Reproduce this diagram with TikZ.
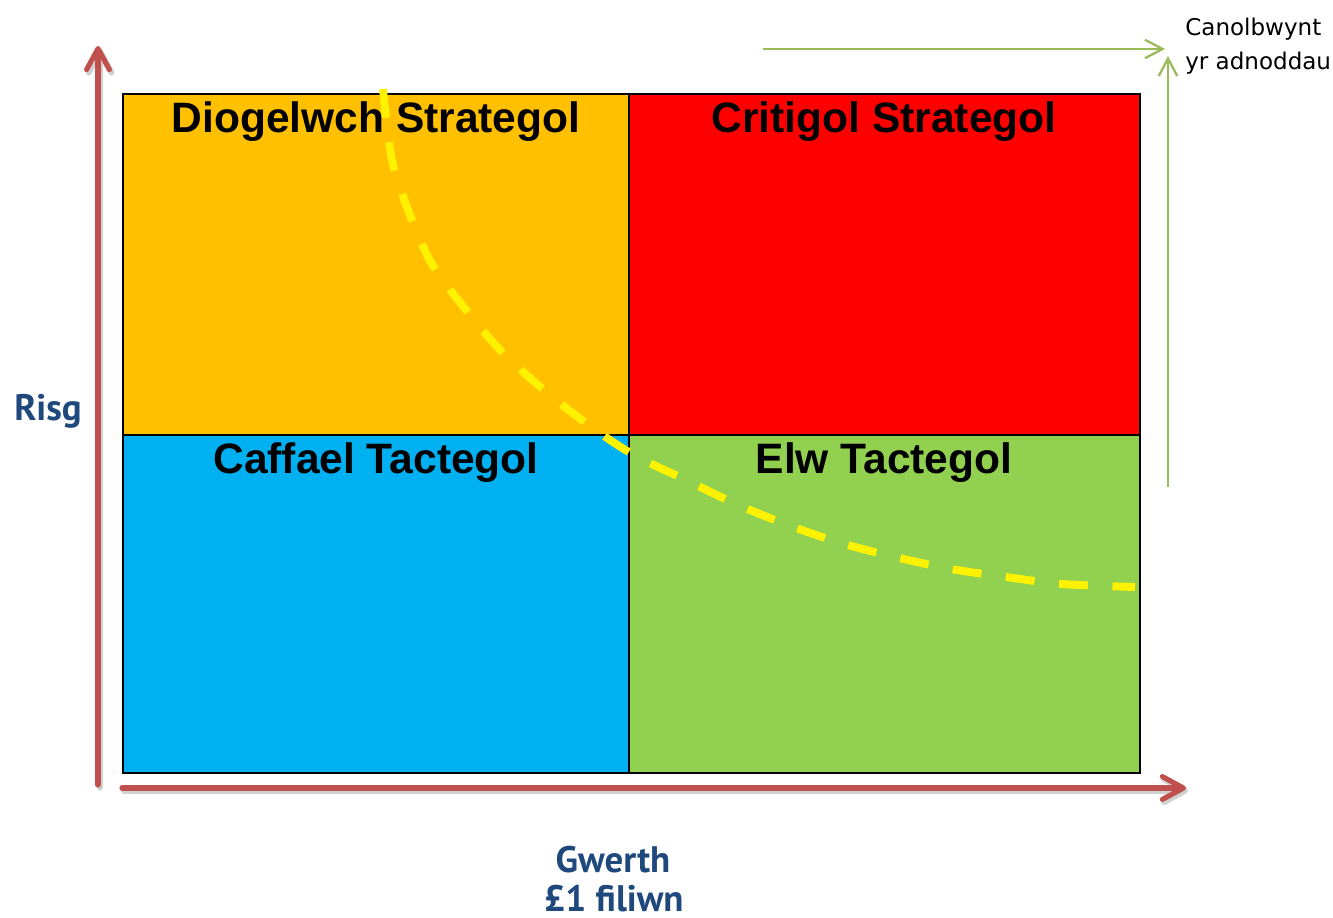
\documentclass[tikz,border=0pt]{standalone}
\usepackage{fontspec}
\setmainfont{Liberation Sans}
\newfontfamily\notefont{DejaVu Sans}
\newfontfamily\axisfont{PT Sans}
\usetikzlibrary{arrows.meta}
\definecolor{qorange}{HTML}{FFC000}
\definecolor{qred}{HTML}{FF0000}
\definecolor{qblue}{HTML}{00B0F0}
\definecolor{qgreen}{HTML}{92D050}
\definecolor{axisred}{HTML}{C0504D}
\definecolor{focusgreen}{HTML}{9BBB59}
\definecolor{axisblue}{HTML}{1F497D}
\tikzset{
  quad/.style={draw=black, line width=0.6pt},
  qtitle/.style={anchor=base, font=\bfseries\fontsize{24.2pt}{28pt}\selectfont, text=black, inner sep=0pt},
  axisarrow/.style={draw=axisred, line width=2.9pt, line cap=round,
     -{Straight Barb[length=12pt, width=13pt, round]}},
  axisshadow/.style={draw=black!18, line width=3.4pt, line cap=round,
     -{Straight Barb[length=12pt, width=13pt, round]}},
  focusarrow/.style={draw=focusgreen, line width=1.3pt,
     -{Straight Barb[length=10pt, width=10.5pt]}},
  axislabel/.style={anchor=base, font=\axisfont\bfseries\fontsize{21pt}{25pt}\selectfont, text=axisblue, inner sep=0pt},
  notelabel/.style={anchor=base west, font=\notefont\fontsize{13.1pt}{15pt}\selectfont, text=black, inner sep=0pt},
  curve/.style={draw=yellow, line width=4.5pt, dash pattern=on 16.5pt off 14pt}
}
\begin{document}
\begin{tikzpicture}[x=0.02cm,y=-0.02cm]
\useasboundingbox (0,0) rectangle (1333,918);

% quadrants
\fill[qorange] (123,94) rectangle (629,435);
\fill[qred] (629,94) rectangle (1140,435);
\fill[qblue] (123,435) rectangle (629,773);
\fill[qgreen] (629,435) rectangle (1140,773);
\draw[quad] (123,94) rectangle (1140,773);
\draw[quad] (629,94) -- (629,773);
\draw[quad] (123,435) -- (1140,435);

% dashed yellow curve
\draw[curve] plot[smooth, tension=0.55] coordinates {
 (383,89) (392,160) (410,215) (432,264) (466,310) (502,352) (544,390)
 (590,426) (634,455) (686,480) (736,504) (788,525) (841,543) (895,557)
 (951,569) (1006,577) (1062,584) (1135,587)};

% titles
\node[qtitle] (t1) at (376,133) {Diogelwch Strategol};
\node[qtitle] (t2) at (884,133) {Critigol Strategol};
\node[qtitle] (t3) at (376,474) {Caffael Tactegol};
\node[qtitle] (t4) at (884,474) {Elw Tactegol};

% red axes
\coordinate (yb) at (98,785);
\coordinate (yt) at (98,46);
\coordinate (xl) at (122,788);
\coordinate (xr) at (1186,788);
\draw[axisshadow, transform canvas={shift={(1.2pt,-1.5pt)}}] (yb) -- (yt);
\draw[axisshadow, transform canvas={shift={(1.2pt,-1.5pt)}}] (xl) -- (xr);
\draw[axisarrow] (yb) -- (yt);
\draw[axisarrow] (xl) -- (xr);

% green arrows
\coordinate (gh1) at (763,49);
\coordinate (gh2) at (1165,49);
\coordinate (gv1) at (1168,487);
\coordinate (gv2) at (1168,56);
\draw[focusarrow] (gh1) -- (gh2);
\draw[focusarrow] (gv1) -- (gv2);

% labels
\node[notelabel] (n1) at (1185,36) {Canolbwynt};
\node[notelabel] (n2) at (1185,70) {yr adnoddau};
\node[axislabel] (risg) at (48,421) {Risg};
\node[axislabel] (gw) at (613,872) {Gwerth};
\node[axislabel] (mil) at (614,911) {£1 filiwn};
\end{tikzpicture}
\end{document}
